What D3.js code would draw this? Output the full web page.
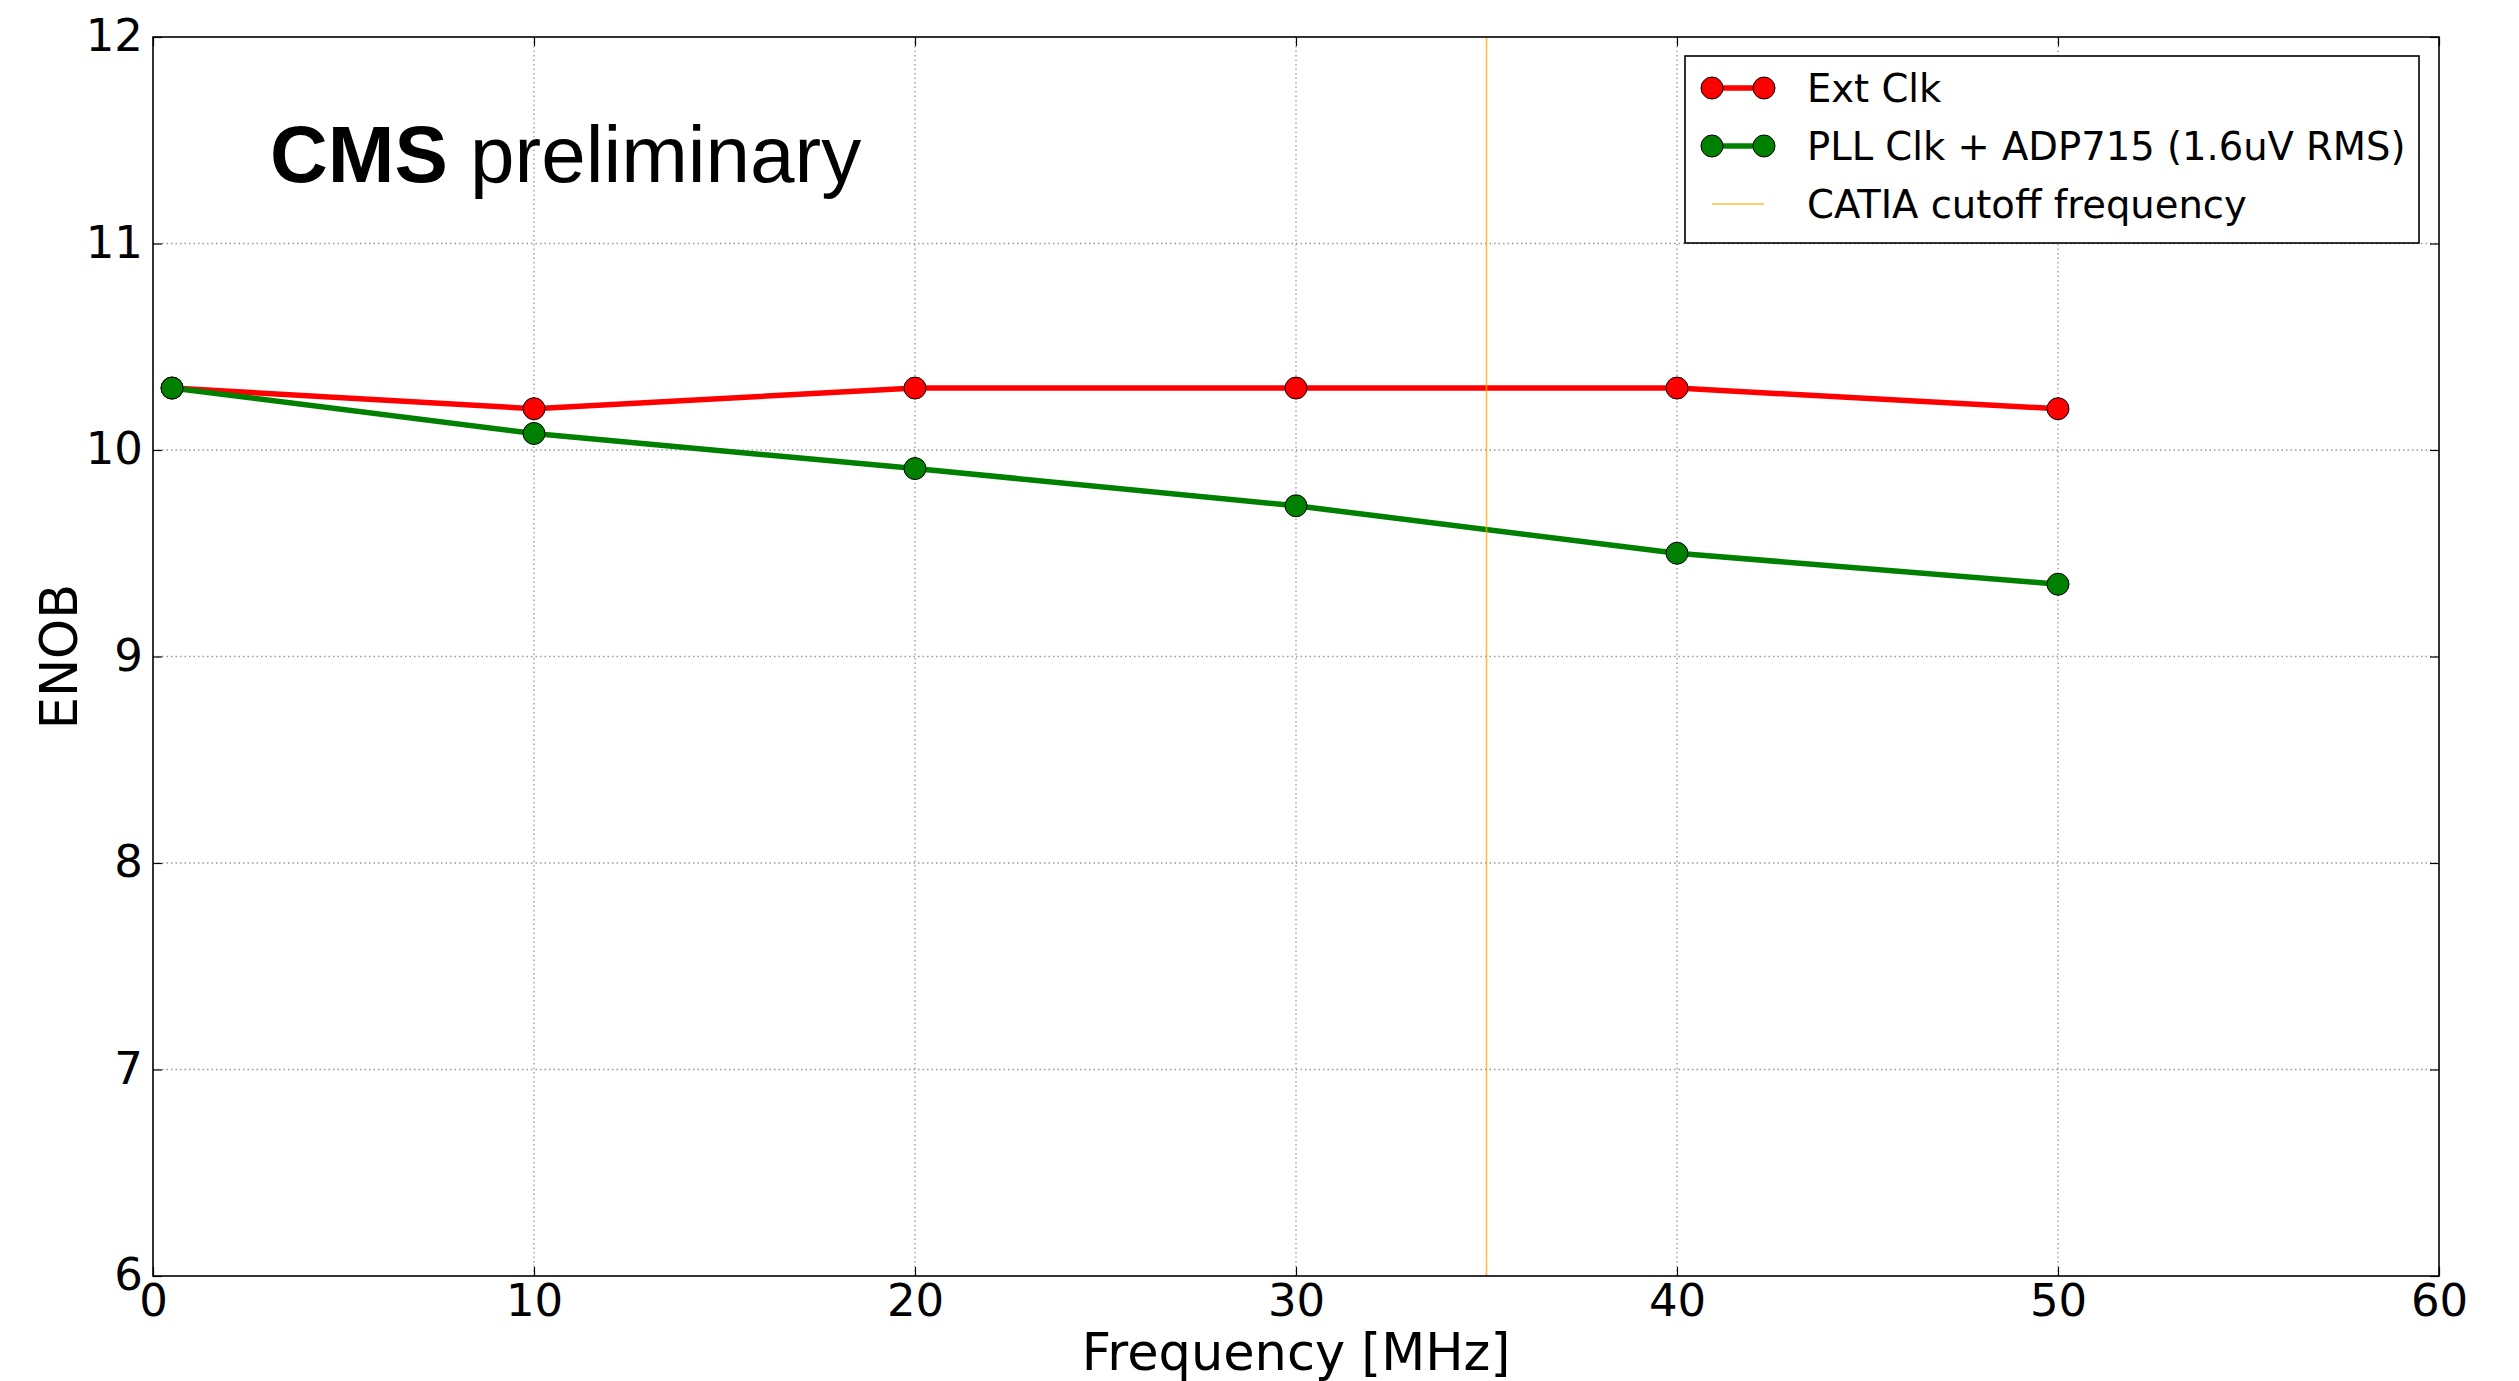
<!DOCTYPE html>
<html>
<head>
<meta charset="utf-8">
<script src="https://cdn.jsdelivr.net/npm/d3@7"></script>
<style>
  body { margin: 0; background: #fff; }
  text { font-family: "DejaVu Sans", sans-serif; fill: #000; }
</style>
</head>
<body>
<div id="chart"></div>
<script>
// chart values
var freqs = [0.5, 10, 20, 30, 40, 50];
var extClk = [10.3, 10.2, 10.3, 10.3, 10.3, 10.2];
var pllClk = [10.3, 10.08, 9.91, 9.73, 9.5, 9.35];
var cutoffFreq = 35;
var xTicks = [0, 10, 20, 30, 40, 50, 60];
var yTicks = [6, 7, 8, 9, 10, 11, 12];
var seriesNames = ["Ext Clk", "PLL Clk + ADP715 (1.6uV RMS)", "CATIA cutoff frequency"];

var width = 2519,
  height = 1381;
// plot box (window.top is read-only, so use own names)
var plotL = 153, plotR = 2439, plotT = 37, plotB = 1276;

var svg = d3
  .select("#chart")
  .append("svg")
  .attr("width", width)
  .attr("height", height);

svg.append("rect").attr("width", width).attr("height", height).attr("fill", "#fff");

var xScale = d3.scaleLinear().domain([0, 60]).range([plotL, plotR]);
var yScale = d3.scaleLinear().domain([6, 12]).range([plotB, plotT]);

// grid
svg.append("g")
  .selectAll("line")
  .data(xTicks.slice(1, -1))
  .enter()
  .append("line")
  .attr("x1", function(d) { return xScale(d); })
  .attr("x2", function(d) { return xScale(d); })
  .attr("y1", plotT)
  .attr("y2", plotB)
  .attr("stroke", "#999")
  .attr("stroke-width", 1.3)
  .attr("stroke-dasharray", "1.5,3");

svg.append("g")
  .selectAll("line")
  .data(yTicks.slice(1, -1))
  .enter()
  .append("line")
  .attr("x1", plotL)
  .attr("x2", plotR)
  .attr("y1", function(d) { return yScale(d); })
  .attr("y2", function(d) { return yScale(d); })
  .attr("stroke", "#999")
  .attr("stroke-width", 1.3)
  .attr("stroke-dasharray", "1.5,3");

// axes (ticks inside, like matplotlib classic)
var xAxis = d3.axisBottom(xScale).tickValues(xTicks).tickSize(-9).tickPadding(8).tickFormat(d3.format("d"));
var yAxis = d3.axisLeft(yScale).tickValues(yTicks).tickSize(-9).tickPadding(10).tickFormat(d3.format("d"));

var gx = svg.append("g").attr("transform", "translate(0," + plotB + ")").call(xAxis);
var gy = svg.append("g").attr("transform", "translate(" + plotL + ",0)").call(yAxis);
[gx, gy].forEach(function(g) {
  g.select(".domain").remove();
  g.selectAll("line").attr("stroke", "#000").attr("stroke-width", 1.2);
  g.selectAll("text").attr("font-size", 45).attr("font-family", "DejaVu Sans");
});
gx.selectAll("text").attr("dy", "0.71em");
gy.selectAll("text").attr("dy", "0.3em");

svg.append("g").attr("transform", "translate(0," + plotT + ")")
  .call(d3.axisTop(xScale).tickValues(xTicks).tickSize(-9).tickFormat(""))
  .call(function(g) { g.select(".domain").remove(); g.selectAll("line").attr("stroke", "#000").attr("stroke-width", 1.2); });
svg.append("g").attr("transform", "translate(" + plotR + ",0)")
  .call(d3.axisRight(yScale).tickValues(yTicks).tickSize(-9).tickFormat(""))
  .call(function(g) { g.select(".domain").remove(); g.selectAll("line").attr("stroke", "#000").attr("stroke-width", 1.2); });

// series
var line = d3.line()
  .x(function(d) { return xScale(d[0]); })
  .y(function(d) { return yScale(d[1]); });

function drawSeries(values, color) {
  var pts = freqs.map(function(f, i) { return [f, values[i]]; });
  svg.append("path")
    .datum(pts)
    .attr("d", line)
    .attr("fill", "none")
    .attr("stroke", color)
    .attr("stroke-width", 5.5)
    .attr("stroke-linejoin", "round");
  svg.append("g")
    .selectAll("circle")
    .data(pts)
    .enter()
    .append("circle")
    .attr("cx", function(d) { return xScale(d[0]); })
    .attr("cy", function(d) { return yScale(d[1]); })
    .attr("r", 11)
    .attr("fill", color)
    .attr("stroke", "#000")
    .attr("stroke-width", 1);
}

drawSeries(extClk, "#ff0000");
drawSeries(pllClk, "#008000");

svg.append("line")
  .attr("x1", xScale(cutoffFreq))
  .attr("x2", xScale(cutoffFreq))
  .attr("y1", plotT)
  .attr("y2", plotB)
  .attr("stroke", "#ffa500")
  .attr("stroke-opacity", 0.75)
  .attr("stroke-width", 1.6);

// frame
svg.append("rect")
  .attr("x", plotL)
  .attr("y", plotT)
  .attr("width", plotR - plotL)
  .attr("height", plotB - plotT)
  .attr("fill", "none")
  .attr("stroke", "#000")
  .attr("stroke-width", 1.6);

// axis labels
svg.append("text")
  .attr("x", (plotL + plotR) / 2)
  .attr("y", 1370)
  .attr("text-anchor", "middle")
  .attr("font-size", 51)
  .text("Frequency [MHz]");

svg.append("text")
  .attr("transform", "translate(77," + (plotT + plotB) / 2 + ") rotate(-90)")
  .attr("text-anchor", "middle")
  .attr("font-size", 51)
  .text("ENOB");

// CMS label
var cms = svg.append("text")
  .attr("x", 270)
  .attr("y", 182)
  .attr("font-size", 80)
  .style("font-family", "'Liberation Sans', Arial, sans-serif");
cms.append("tspan").attr("font-weight", "bold").text("CMS");
cms.append("tspan").text(" preliminary");

// legend
var legend = svg.append("g");
legend.append("rect")
  .attr("x", 1685)
  .attr("y", 56)
  .attr("width", 734)
  .attr("height", 187)
  .attr("fill", "#fff")
  .attr("stroke", "#000")
  .attr("stroke-width", 1.6);

var legendColors = ["#ff0000", "#008000", "#ffa500"];
var rowY = d3.scaleLinear().domain([0, 2]).range([88, 204]);

seriesNames.forEach(function(name, i) {
  var y = rowY(i);
  if (i < 2) {
    legend.append("line")
      .attr("x1", 1712).attr("x2", 1764)
      .attr("y1", y).attr("y2", y)
      .attr("stroke", legendColors[i])
      .attr("stroke-width", 5.5);
    [1712, 1764].forEach(function(cx) {
      legend.append("circle")
        .attr("cx", cx).attr("cy", y).attr("r", 11)
        .attr("fill", legendColors[i])
        .attr("stroke", "#000").attr("stroke-width", 1);
    });
  } else {
    legend.append("line")
      .attr("x1", 1712).attr("x2", 1764)
      .attr("y1", y).attr("y2", y)
      .attr("stroke", legendColors[i])
      .attr("stroke-opacity", 0.75)
      .attr("stroke-width", 1.6);
  }
  legend.append("text")
    .attr("x", 1807)
    .attr("y", y)
    .attr("dy", "0.36em")
    .attr("font-size", 38.5)
    .text(name);
});
</script>
</body>
</html>
